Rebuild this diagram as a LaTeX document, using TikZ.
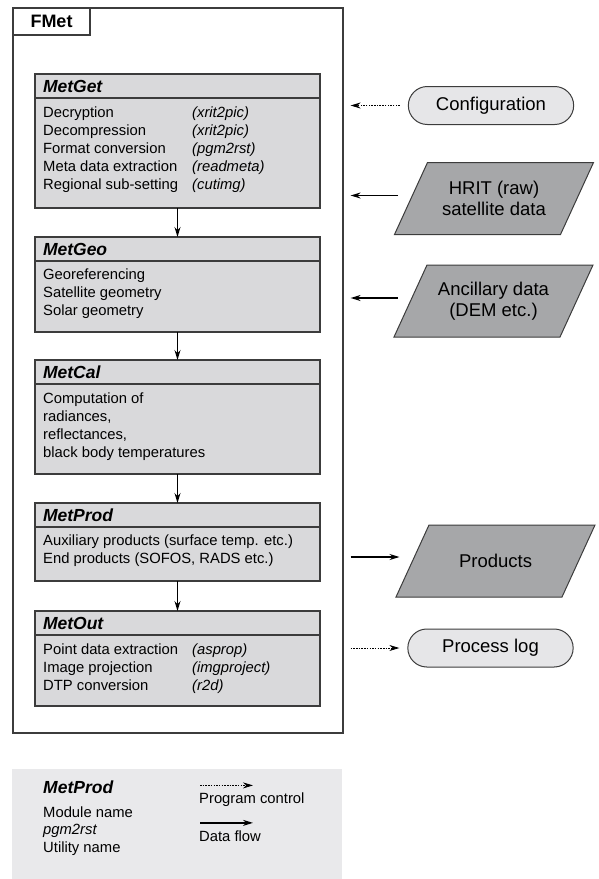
\documentclass[tikz,border=0pt]{standalone}
\usepackage{fontspec}
\setmainfont{Liberation Sans}
\usepackage{tikz}
\usetikzlibrary{shapes.misc, arrows.meta, positioning, calc, backgrounds}

\definecolor{modgray}{RGB}{217,217,219}
\definecolor{datagray}{RGB}{166,167,169}
\definecolor{ctrlgray}{RGB}{230,230,232}
\definecolor{leggray}{RGB}{233,233,235}
\definecolor{edgegray}{RGB}{60,60,60}

\newcommand{\bodyfont}{\fontsize{14.8}{17.8}\selectfont}
\newcommand{\headfont}{\fontsize{17.5}{20}\selectfont\bfseries\itshape}
\newcommand{\sidefont}{\fontsize{18.5}{21.5}\selectfont}

\begin{document}
\begin{tikzpicture}[x=1pt, y=-1pt,
  frame/.style={rectangle, draw=edgegray, line width=1.2pt, inner sep=0pt},
  modhead/.style={rectangle, draw=edgegray, fill=modgray, line width=1.1pt,
    minimum width=285pt, minimum height=24pt, text width=269pt, inner xsep=8pt,
    inner ysep=0pt, outer sep=0pt, align=left, anchor=north, font=\headfont},
  modbody/.style={rectangle, draw=edgegray, fill=modgray, line width=1.1pt,
    minimum width=285pt, inner sep=0pt, outer sep=0pt},
  modtext/.style={anchor=north west, inner sep=0pt, align=left, font=\bodyfont,
    execute at begin node=\strut},
  utiltext/.style={modtext, font=\bodyfont\itshape},
  datafile/.style={rectangle, minimum width=166pt, minimum height=72pt,
    inner sep=0pt, outer sep=0pt, align=center, font=\sidefont},
  dataslant/.style={draw=edgegray, fill=datagray, line width=1pt, line join=miter},
  ctrlfile/.style={rounded rectangle, draw=edgegray, fill=ctrlgray, line width=1pt,
    minimum width=172pt, minimum height=38pt, font=\sidefont},
  dataflow/.style={-{Stealth[length=10pt, width=6pt]}, line width=1.3pt},
  ctrlflow/.style={-{Stealth[length=10pt, width=6pt]}, line width=0.8pt,
    dash pattern=on 1.5pt off 1.2pt},
]
\useasboundingbox (0,0) rectangle (599,879);

% outer frame
\node[frame, minimum width=330pt, minimum height=725pt] (fmet) at (178,370.5) {};
\node[frame, minimum width=77pt, minimum height=27pt, anchor=north west,
  font=\fontsize{18}{20}\selectfont\bfseries] (fmetlabel) at (fmet.north west) {FMet};

% modules
\node[modhead] (get) at (177.5,74) {MetGet};
\node[modbody, minimum height=110pt, below=0pt of get] (getbody) {};
\node[modtext] (gettext) at ([xshift=8pt,yshift=-9pt]getbody.north west)
  {Decryption\\Decompression\\Format conversion\\Meta data extraction\\Regional sub-setting};
\node[utiltext] (getutil) at ([xshift=157pt,yshift=-9pt]getbody.north west)
  {(xrit2pic)\\(xrit2pic)\\(pgm2rst)\\(readmeta)\\(cutimg)};

\node[modhead] (geo) at (177.5,237) {MetGeo};
\node[modbody, minimum height=71pt, below=0pt of geo] (geobody) {};
\node[modtext] (geotext) at ([xshift=8pt,yshift=-8pt]geobody.north west)
  {Georeferencing\\Satellite geometry\\Solar geometry};

\node[modhead] (cal) at (177.5,360) {MetCal};
\node[modbody, minimum height=90pt, below=0pt of cal] (calbody) {};
\node[modtext] (caltext) at ([xshift=8pt,yshift=-9pt]calbody.north west)
  {Computation of\\radiances,\\reflectances,\\black body temperatures};

\node[modhead] (prod) at (177.5,503) {MetProd};
\node[modbody, minimum height=54pt, below=0pt of prod] (prodbody) {};
\node[modtext] (prodtext) at ([xshift=8pt,yshift=-8pt]prodbody.north west)
  {Auxiliary products (surface temp. etc.)\\End products (SOFOS, RADS etc.)};

\node[modhead] (out) at (177.5,611) {MetOut};
\node[modbody, minimum height=71pt, below=0pt of out] (outbody) {};
\node[modtext] (outtext) at ([xshift=8pt,yshift=-9pt]outbody.north west)
  {Point data extraction\\Image projection\\DTP conversion};
\node[utiltext] (oututil) at ([xshift=157pt,yshift=-9pt]outbody.north west)
  {(asprop)\\(imgproject)\\(r2d)};

\draw[dataflow] (getbody) -- (geo);
\draw[dataflow] (geobody) -- (cal);
\draw[dataflow] (calbody) -- (prod);
\draw[dataflow] (prodbody) -- (out);

% inputs and outputs
\node[ctrlfile] (config) at (491,105.5) {Configuration};
\node[datafile] (hrit) at (494,198.5) {HRIT (raw)\\satellite data};
\node[datafile] (ancil) at (493.5,301) {Ancillary data\\(DEM etc.)};
\node[datafile] (products) at (495.5,561) {Products};
\node[ctrlfile] (proclog) at (490.5,648) {Process log};

\begin{scope}[on background layer]
  \foreach \f in {hrit, ancil, products}
    \draw[dataslant] ([xshift=-16.5pt]\f.south west) -- ([xshift=16.5pt]\f.north west)
      -- ([xshift=16.5pt]\f.north east) -- ([xshift=-16.5pt]\f.south east) -- cycle;
\end{scope}

\draw[ctrlflow, shorten >=7pt] ([xshift=-8pt]config.west) -- (config.west -| fmet.east);
\draw[dataflow, shorten >=7pt] ([xshift=-13pt,yshift=3pt]hrit.west) -- ([yshift=3pt]hrit.west -| fmet.east);
\draw[dataflow, shorten >=7pt] ([xshift=-13pt,yshift=3pt]ancil.west) -- ([yshift=3pt]ancil.west -| fmet.east);
\draw[dataflow, shorten <=7pt] ([yshift=4pt]products.west -| fmet.east) -- ([xshift=-13pt,yshift=4pt]products.west);
\draw[ctrlflow, shorten <=7pt] (proclog.west -| fmet.east) -- ([xshift=-8pt]proclog.west);

% legend
\node[fill=leggray, minimum width=330pt, minimum height=110pt, inner sep=0pt,
  anchor=north west] (legend) at (12,769) {};
\node[anchor=west, inner sep=0pt, font=\headfont] (legmod) at (43,787) {MetProd};
\node[anchor=west, inner sep=0pt, font=\bodyfont] (legmodname) at (43,812) {Module name};
\node[anchor=west, inner sep=0pt, font=\bodyfont\itshape] (legutil) at (43,831) {pgm2rst};
\node[anchor=west, inner sep=0pt, font=\bodyfont] (legutilname) at (43,849) {Utility name};
\node[anchor=west, inner sep=0pt, font=\bodyfont] (legctrl) at (199,800) {Program control};
\node[anchor=west, inner sep=0pt, font=\bodyfont] (legdata) at (199,836) {Data flow};
\draw[ctrlflow] ([xshift=1pt,yshift=7.5pt]legctrl.north west) -- ++(53,0);
\draw[dataflow] ([xshift=1pt,yshift=7.5pt]legdata.north west) -- ++(53,0);

\end{tikzpicture}
\end{document}
